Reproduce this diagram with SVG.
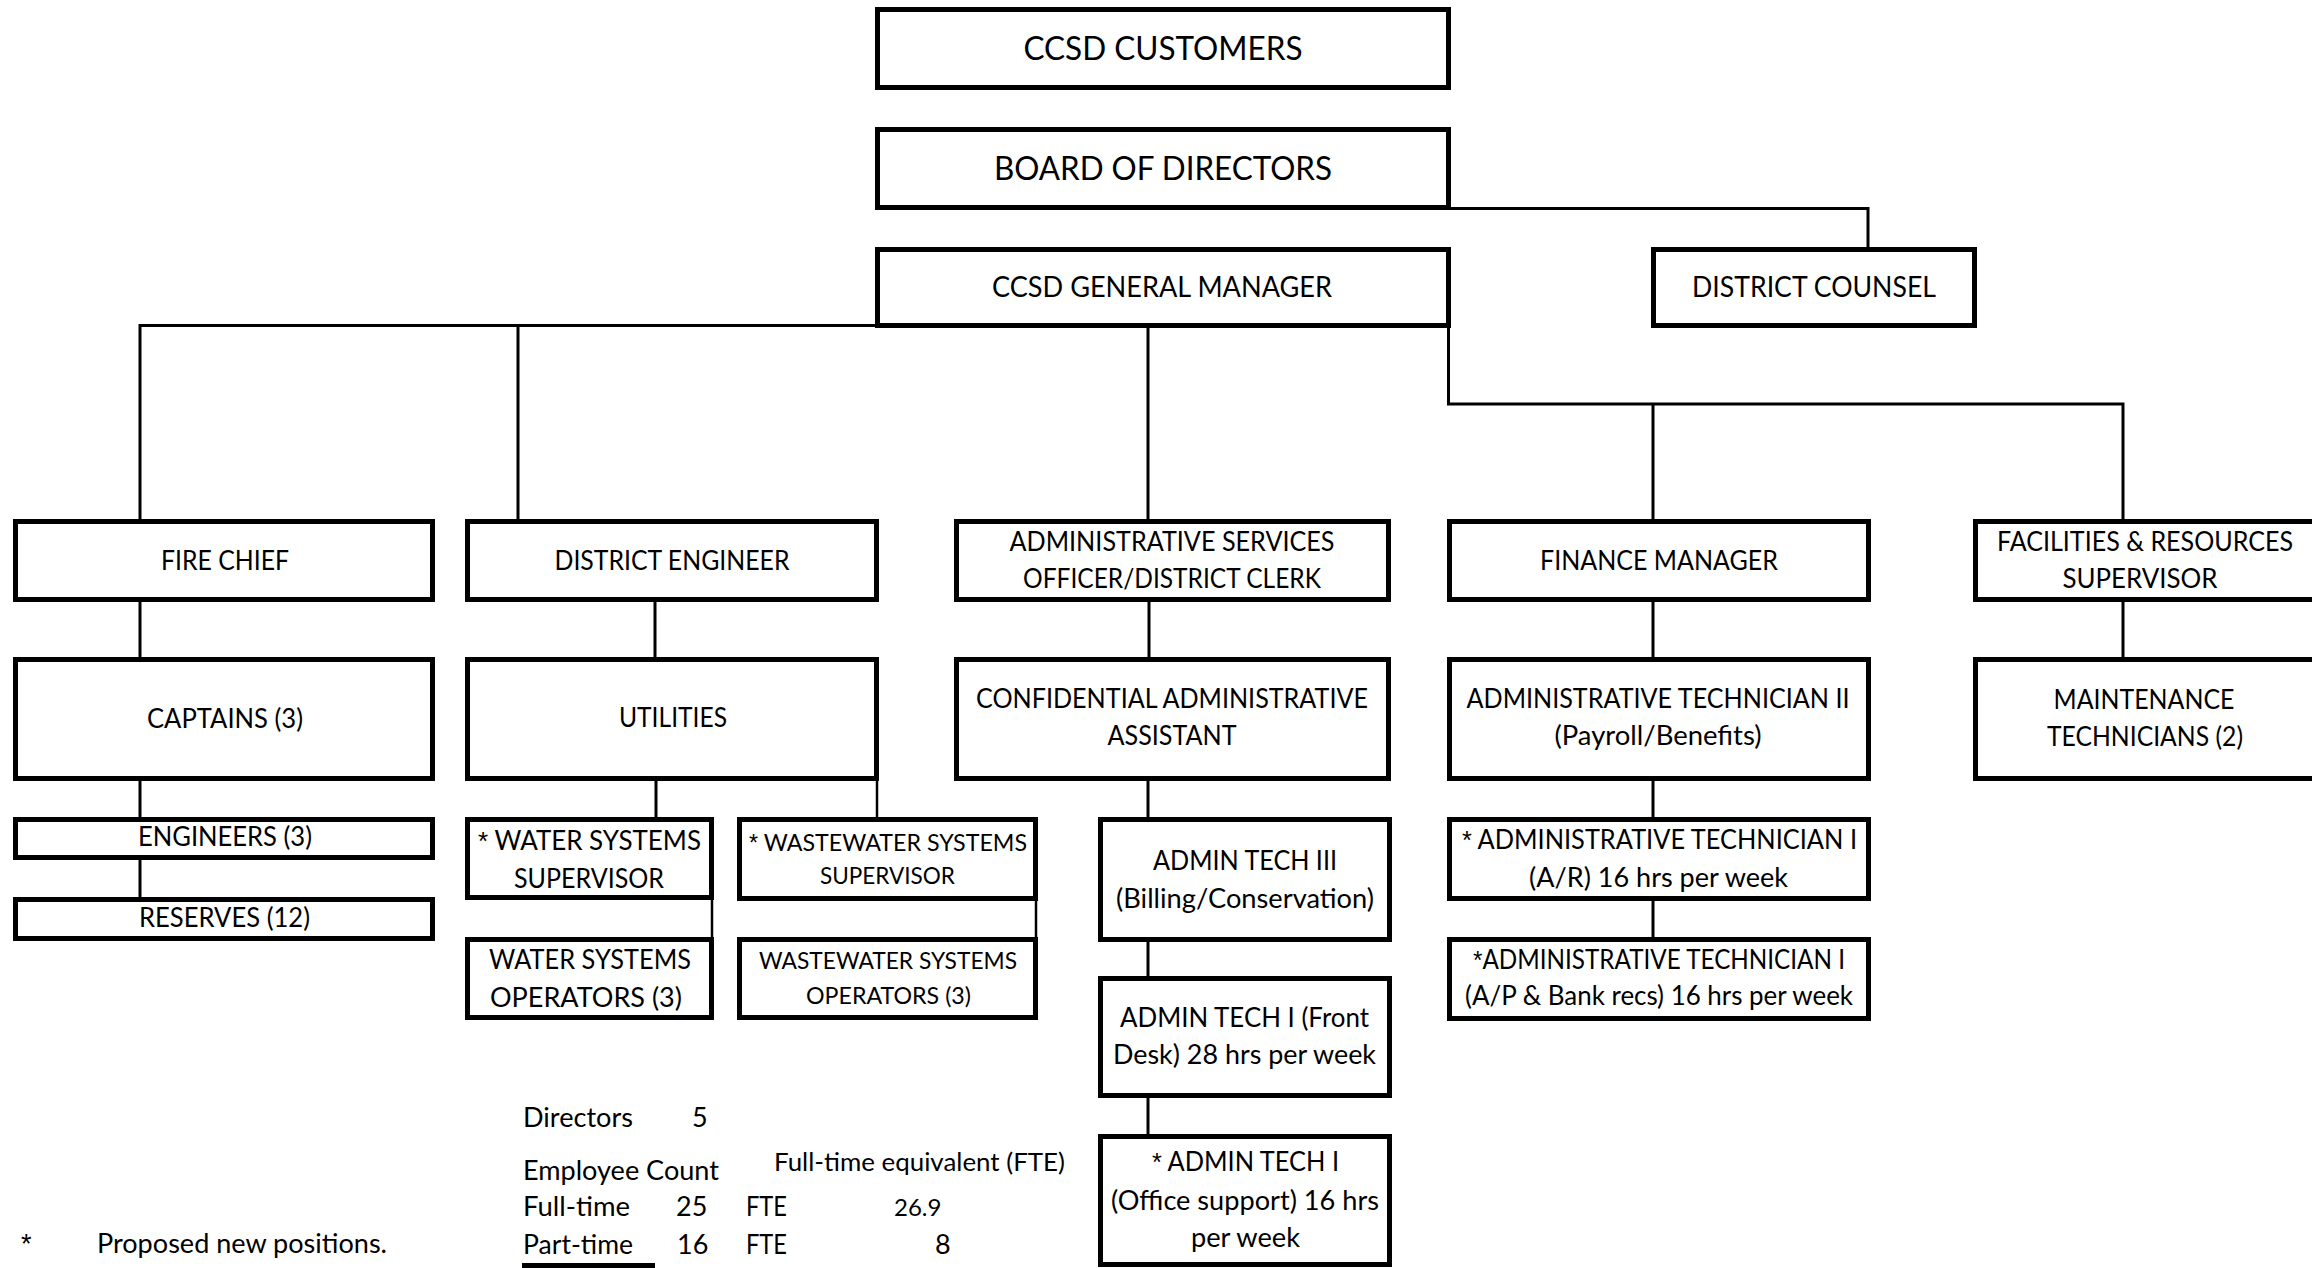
<svg xmlns="http://www.w3.org/2000/svg" width="2312" height="1268" viewBox="0 0 2312 1268">
<style>
.box{fill:#fff;stroke:#000;stroke-width:5}
.c{stroke:#000;stroke-width:3;fill:none}
.cs{stroke:#000;stroke-width:2.5;fill:none}
text{font-family:Lato,"Liberation Sans",sans-serif;fill:#000}
.t{font-size:26px;text-anchor:middle}
.tl{font-size:33px;text-anchor:middle}
.tm{font-size:29px;text-anchor:middle}
.ts{font-size:24px;text-anchor:middle}
.s{font-size:27px}
.ast{font-family:"Liberation Sans",sans-serif}
</style>
<rect width="2312" height="1268" fill="#fff"/>
<g id="connectors">
<path class="c" d="M1451 208.5H1868V249"/>
<path class="c" d="M876 325.5H140V521"/>
<path class="c" d="M1148 327V521"/>
<path class="c" d="M1448.5 327V404H2123V520"/>
<path class="c" d="M1653 404V521"/>
<path class="c" d="M518 325.5V521"/>
<path class="c" d="M140 601V659"/>
<path class="c" d="M655 601V659"/>
<path class="c" d="M1149 601V659"/>
<path class="c" d="M1653 601V659"/>
<path class="c" d="M2123 601V659"/>
<path class="c" d="M140 780V819"/>
<path class="c" d="M140 859V899"/>
<path class="c" d="M656 780V819"/>
<path class="cs" d="M877 780V819"/>
<path class="cs" d="M712 899V939"/>
<path class="cs" d="M1036 900V939"/>
<path class="c" d="M1148 780V819"/>
<path class="c" d="M1148 941V978"/>
<path class="c" d="M1148 1097V1136"/>
<path class="c" d="M1653 780V819"/>
<path class="c" d="M1653 900V939"/>
</g>
<g id="customers"><rect class="box" x="877.5" y="9.5" width="571" height="78"/><text class="tl" x="1163" y="60" textLength="279" lengthAdjust="spacingAndGlyphs">CCSD CUSTOMERS</text></g>
<g id="board"><rect class="box" x="877.5" y="129.5" width="571" height="78"/><text class="tl" x="1163" y="180" textLength="338" lengthAdjust="spacingAndGlyphs">BOARD OF DIRECTORS</text></g>
<g id="gm"><rect class="box" x="877.5" y="249.5" width="571" height="76"/><text class="tm" x="1162" y="297" textLength="340" lengthAdjust="spacingAndGlyphs">CCSD GENERAL MANAGER</text></g>
<g id="counsel"><rect class="box" x="1653.5" y="249.5" width="321" height="76"/><text class="tm" x="1814" y="297" textLength="244" lengthAdjust="spacingAndGlyphs">DISTRICT COUNSEL</text></g>
<g id="fire-chief"><rect class="box" x="15.5" y="521.5" width="417" height="78"/><text class="t" x="225" y="570" textLength="128" lengthAdjust="spacingAndGlyphs">FIRE CHIEF</text></g>
<g id="district-engineer"><rect class="box" x="467.5" y="521.5" width="409" height="78"/><text class="t" x="672" y="570" textLength="235" lengthAdjust="spacingAndGlyphs">DISTRICT ENGINEER</text></g>
<g id="admin-services"><rect class="box" x="956.5" y="521.5" width="432" height="78"/><text class="t" x="1172" y="551" textLength="325" lengthAdjust="spacingAndGlyphs">ADMINISTRATIVE SERVICES</text><text class="t" x="1172" y="588" textLength="298" lengthAdjust="spacingAndGlyphs">OFFICER/DISTRICT CLERK</text></g>
<g id="finance-manager"><rect class="box" x="1449.5" y="521.5" width="419" height="78"/><text class="t" x="1659" y="570" textLength="238" lengthAdjust="spacingAndGlyphs">FINANCE MANAGER</text></g>
<g id="facilities"><rect class="box" x="1975.5" y="521.5" width="340" height="78"/><text class="t" x="2145" y="551" textLength="296" lengthAdjust="spacingAndGlyphs">FACILITIES &amp; RESOURCES</text><text class="t" x="2140" y="588" textLength="155" lengthAdjust="spacingAndGlyphs">SUPERVISOR</text></g>
<g id="captains"><rect class="box" x="15.5" y="659.5" width="417" height="119"/><text class="t" x="225" y="728" textLength="156" lengthAdjust="spacingAndGlyphs">CAPTAINS (3)</text></g>
<g id="utilities"><rect class="box" x="467.5" y="659.5" width="409" height="119"/><text class="t" x="673" y="727" textLength="108" lengthAdjust="spacingAndGlyphs">UTILITIES</text></g>
<g id="confidential"><rect class="box" x="956.5" y="659.5" width="432" height="119"/><text class="t" x="1172" y="708" textLength="392" lengthAdjust="spacingAndGlyphs">CONFIDENTIAL ADMINISTRATIVE</text><text class="t" x="1172" y="745" textLength="129" lengthAdjust="spacingAndGlyphs">ASSISTANT</text></g>
<g id="admin-tech-2"><rect class="box" x="1449.5" y="659.5" width="419" height="119"/><text class="t" x="1658" y="708" textLength="383" lengthAdjust="spacingAndGlyphs">ADMINISTRATIVE TECHNICIAN II</text><text class="t" x="1658" y="745" textLength="207" lengthAdjust="spacingAndGlyphs">(Payroll/Benefits)</text></g>
<g id="maintenance"><rect class="box" x="1975.5" y="659.5" width="340" height="119"/><text class="t" x="2144" y="709" textLength="181" lengthAdjust="spacingAndGlyphs">MAINTENANCE</text><text class="t" x="2145" y="746" textLength="196" lengthAdjust="spacingAndGlyphs">TECHNICIANS (2)</text></g>
<g id="engineers"><rect class="box" x="15.5" y="819.5" width="417" height="38"/><text class="t" x="225" y="846" textLength="174" lengthAdjust="spacingAndGlyphs">ENGINEERS (3)</text></g>
<g id="reserves"><rect class="box" x="15.5" y="899.5" width="417" height="39"/><text class="t" x="224.5" y="927" textLength="171" lengthAdjust="spacingAndGlyphs">RESERVES (12)</text></g>
<g id="water-supervisor"><rect class="box" x="467.5" y="819.5" width="244" height="78"/><text class="t" x="589.5" y="850" textLength="223" lengthAdjust="spacingAndGlyphs"><tspan class="ast">*</tspan> WATER SYSTEMS</text><text class="t" x="589" y="888" textLength="150" lengthAdjust="spacingAndGlyphs">SUPERVISOR</text></g>
<g id="wastewater-supervisor"><rect class="box" x="739.5" y="819.5" width="296" height="79"/><text class="ts" x="888" y="851" textLength="278" lengthAdjust="spacingAndGlyphs"><tspan class="ast">*</tspan> WASTEWATER SYSTEMS</text><text class="ts" x="887.5" y="884" textLength="135" lengthAdjust="spacingAndGlyphs">SUPERVISOR</text></g>
<g id="water-operators"><rect class="box" x="467.5" y="939.5" width="244" height="78"/><text class="t" x="590" y="969" textLength="202" lengthAdjust="spacingAndGlyphs">WATER SYSTEMS</text><text class="t" x="586" y="1007" textLength="192" lengthAdjust="spacingAndGlyphs">OPERATORS (3)</text></g>
<g id="wastewater-operators"><rect class="box" x="739.5" y="939.5" width="296" height="78"/><text class="ts" x="888" y="969" textLength="258" lengthAdjust="spacingAndGlyphs">WASTEWATER SYSTEMS</text><text class="ts" x="888.5" y="1004" textLength="165" lengthAdjust="spacingAndGlyphs">OPERATORS (3)</text></g>
<g id="admin-tech-3"><rect class="box" x="1100.5" y="819.5" width="289" height="120"/><text class="t" x="1245" y="870" textLength="184" lengthAdjust="spacingAndGlyphs">ADMIN TECH III</text><text class="t" x="1245" y="908" textLength="258" lengthAdjust="spacingAndGlyphs">(Billing/Conservation)</text></g>
<g id="admin-tech-1-front"><rect class="box" x="1100.5" y="978.5" width="289" height="117"/><text class="t" x="1244.5" y="1027" textLength="249" lengthAdjust="spacingAndGlyphs">ADMIN TECH I (Front</text><text class="t" x="1244.5" y="1064" textLength="263" lengthAdjust="spacingAndGlyphs">Desk) 28 hrs per week</text></g>
<g id="admin-tech-1-office"><rect class="box" x="1100.5" y="1136.5" width="289" height="128"/><text class="t" x="1245.5" y="1171" textLength="187" lengthAdjust="spacingAndGlyphs"><tspan class="ast">*</tspan> ADMIN TECH I</text><text class="t" x="1245" y="1210" textLength="268" lengthAdjust="spacingAndGlyphs">(Office support) 16 hrs</text><text class="t" x="1245.5" y="1247" textLength="109" lengthAdjust="spacingAndGlyphs">per week</text></g>
<g id="admin-tech-1-ar"><rect class="box" x="1449.5" y="819.5" width="419" height="79"/><text class="t" x="1659.5" y="849" textLength="395" lengthAdjust="spacingAndGlyphs"><tspan class="ast">*</tspan> ADMINISTRATIVE TECHNICIAN I</text><text class="t" x="1658.5" y="887" textLength="259" lengthAdjust="spacingAndGlyphs">(A/R) 16 hrs per week</text></g>
<g id="admin-tech-1-ap"><rect class="box" x="1449.5" y="939.5" width="419" height="79"/><text class="t" x="1659" y="969" textLength="372" lengthAdjust="spacingAndGlyphs"><tspan class="ast">*</tspan>ADMINISTRATIVE TECHNICIAN I</text><text class="t" x="1659" y="1005" textLength="388" lengthAdjust="spacingAndGlyphs">(A/P &amp; Bank recs) 16 hrs per week</text></g>
<g id="stats">
<text class="s" x="523" y="1127" textLength="110" lengthAdjust="spacingAndGlyphs">Directors</text>
<text class="s" x="692" y="1127">5</text>
<text class="s" x="523" y="1180" textLength="196" lengthAdjust="spacingAndGlyphs">Employee Count</text>
<text class="s" x="774" y="1171" style="font-size:25px" textLength="291" lengthAdjust="spacingAndGlyphs">Full-time equivalent (FTE)</text>
<text class="s" x="523" y="1216" textLength="107" lengthAdjust="spacingAndGlyphs">Full-time</text>
<text class="s" x="676" y="1216">25</text>
<text class="s" x="746" y="1216" textLength="41" lengthAdjust="spacingAndGlyphs">FTE</text>
<text class="s" x="894" y="1216" style="font-size:24px">26.9</text>
<text class="s" x="523" y="1254" textLength="110" lengthAdjust="spacingAndGlyphs">Part-time</text>
<text class="s" x="677" y="1254">16</text>
<text class="s" x="746" y="1254" textLength="41" lengthAdjust="spacingAndGlyphs">FTE</text>
<text class="s" x="935" y="1254">8</text>
<rect x="522" y="1263" width="133" height="5" fill="#000"/>
</g>
<g id="legend">
<text class="s ast" x="21" y="1253">*</text>
<text class="s" x="97" y="1253" textLength="290" lengthAdjust="spacingAndGlyphs">Proposed new positions.</text>
</g>
</svg>
